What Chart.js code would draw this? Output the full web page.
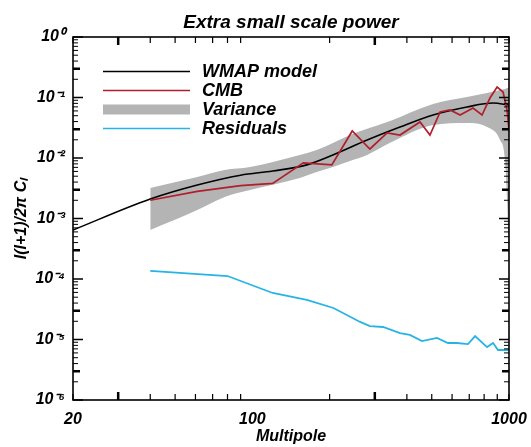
<!DOCTYPE html>
<html>
<head>
<meta charset="utf-8">
<script src="https://cdn.jsdelivr.net/npm/chart.js@4.4.1/dist/chart.umd.min.js"></script>
<style>
  html, body { margin: 0; padding: 0; background: #ffffff; }
  #wrap { width: 531px; height: 447px; }
</style>
</head>
<body>
<div id="wrap"><canvas id="c" width="531" height="447"></canvas></div>
<script>
// ---- data ----
const titleText = 'Extra small scale power';
const xTitle = 'Multipole';
const yTitle = 'l(l+1)/2π Cₗ';

const xTickVals = [20, 100, 1000];
const xTickLabels = ['20', '100', '1000'];
const yTickVals = [1e-6, 1e-5, 1e-4, 1e-3, 1e-2, 1e-1, 1];
const yTickLabels = ['10⁻⁶', '10⁻⁵', '10⁻⁴', '10⁻³', '10⁻²', '10⁻¹', '10⁰'];

const wmapL = [20, 40, 61, 90, 120, 163, 206, 280, 376, 506, 686, 867, 1000];
const wmapV = [6.45e-4, 2.1e-3, 3.58e-3, 5.2e-3, 6.1e-3, 7.7e-3, 1.12e-2, 1.98e-2, 3.25e-2, 5.14e-2, 6.97e-2, 8.1e-2, 7.5e-2];

const cmbL = [40, 61, 90, 120, 158, 204, 245, 287, 335, 376, 450, 492, 539, 589, 645, 724, 785, 843, 899, 948, 983, 1000];
const cmbV = [2.0e-3, 2.8e-3, 3.5e-3, 3.8e-3, 8.3e-3, 7.7e-3, 2.8e-2, 1.41e-2, 2.59e-2, 2.4e-2, 3.94e-2, 2.4e-2, 5.76e-2, 6.22e-2, 5.14e-2, 6.7e-2, 5.14e-2, 9.8e-2, 1.49e-1, 1.23e-1, 6.2e-2, 2.9e-2];

const varL  = [40, 61, 78, 98, 153, 178, 206, 240, 280, 344, 506, 686, 821, 923, 965, 983, 1000];
const varHi = [3.19e-3, 4.85e-3, 6.33e-3, 7.1e-3, 1.12e-2, 1.36e-2, 1.77e-2, 2.4e-2, 3.04e-2, 4.1e-2, 7.8e-2, 1.02e-1, 1.19e-1, 1.33e-1, 1.38e-1, 1.44e-1, 1.44e-1];
const varLo = [6.45e-4, 1.38e-3, 2.27e-3, 2.96e-3, 4.67e-3, 5.87e-3, 7.1e-3, 8.9e-3, 1.12e-2, 1.78e-2, 3.5e-2, 3.8e-2, 3.25e-2, 1.98e-2, 9.3e-3, 2.0e-3, 2.06e-4];

const resL = [40, 80, 120, 163, 207, 263, 287, 323, 376, 411, 458, 524, 578, 627, 692, 738, 821, 867, 906, 1000];
const resV = [1.36e-4, 1.12e-4, 5.87e-5, 4.5e-5, 3.32e-5, 1.95e-5, 1.67e-5, 1.61e-5, 1.28e-5, 1.19e-5, 9.4e-6, 1.06e-5, 8.75e-6, 8.75e-6, 8.4e-6, 1.14e-5, 7.5e-6, 8.75e-6, 6.7e-6, 6.7e-6];

// ---- styles ----
const FAMILY = "'Liberation Sans', Arial, Helvetica, sans-serif";
const RED = '#b01f2c';
const CYAN = '#27b4e4';
const GRAY = '#b4b4b4';
const BLACK = '#000000';

const pts = (xs, ys) => xs.map((x, i) => ({ x: x, y: ys[i] }));

const legendItems = [
  { text: 'WMAP model', color: BLACK, kind: 'line' },
  { text: 'CMB', color: RED, kind: 'line' },
  { text: 'Variance', color: GRAY, kind: 'bar' },
  { text: 'Residuals', color: CYAN, kind: 'line' }
];

const decorPlugin = {
  id: 'decor',
  afterDraw(chart) {
    const ctx = chart.ctx;
    const a = chart.chartArea;
    const xs = chart.scales.x, ys = chart.scales.y;
    ctx.save();
    // title
    ctx.fillStyle = '#000';
    ctx.font = 'italic bold 19px ' + FAMILY;
    ctx.textAlign = 'center';
    ctx.textBaseline = 'alphabetic';
    ctx.fillText(titleText, (a.left + a.right) / 2, 28);

    // inward tick marks
    ctx.strokeStyle = '#000';
    const xt = [];
    for (const d of [10, 100]) for (let m = 2; m <= 9; m++) xt.push(m * d);
    xt.push(1000);
    for (const v of xt) {
      if (v < 20 || v > 1000) continue;
      const px = xs.getPixelForValue(v);
      const thick = (v === 30 || v === 300);
      const len = thick ? 8 : 6;
      ctx.lineWidth = thick ? 2.5 : 1.2;
      ctx.beginPath();
      ctx.moveTo(px, a.bottom); ctx.lineTo(px, a.bottom - len);
      ctx.moveTo(px, a.top); ctx.lineTo(px, a.top + len);
      ctx.stroke();
    }
    for (let e = -6; e <= 0; e++) {
      for (let m = 1; m <= 9; m++) {
        const v = m * Math.pow(10, e);
        if (v > 1.0001) continue;
        const py = ys.getPixelForValue(v);
        let len = 5, lw = 1;
        if (m === 1) { len = 10; lw = 1.3; }
        else if (m === 3) { len = 7; lw = 2.5; }
        ctx.lineWidth = lw;
        ctx.beginPath();
        ctx.moveTo(a.left, py); ctx.lineTo(a.left + len, py);
        ctx.moveTo(a.right, py); ctx.lineTo(a.right - len, py);
        ctx.stroke();
      }
    }
    // frame
    ctx.lineWidth = 1.6;
    ctx.strokeRect(a.left, a.top, a.right - a.left, a.bottom - a.top);

    // legend
    const x0 = a.left + 30, x1 = a.left + 117, tx = a.left + 129;
    ctx.font = 'italic bold 18px ' + FAMILY;
    ctx.textAlign = 'left';
    ctx.textBaseline = 'alphabetic';
    legendItems.forEach((it, i) => {
      const y = a.top + 34.5 + i * 19;
      if (it.kind === 'bar') {
        ctx.fillStyle = it.color;
        ctx.fillRect(x0, y - 5, x1 - x0, 10);
      } else {
        ctx.strokeStyle = it.color;
        ctx.lineWidth = 1.6;
        ctx.beginPath(); ctx.moveTo(x0, y); ctx.lineTo(x1, y); ctx.stroke();
      }
      ctx.fillStyle = '#000';
      ctx.fillText(it.text, tx, y + 5);
    });
    ctx.restore();
  }
};

const tickFont = { family: FAMILY, size: 16, style: 'italic', weight: 'bold' };

new Chart(document.getElementById('c'), {
  type: 'line',
  data: {
    datasets: [
      { label: 'CMB', data: pts(cmbL, cmbV), borderColor: RED, borderWidth: 1.7, pointRadius: 0, fill: false, tension: 0 },
      { label: 'WMAP model', data: pts(wmapL, wmapV), borderColor: BLACK, borderWidth: 1.6, pointRadius: 0, fill: false, cubicInterpolationMode: 'monotone' },
      { label: 'Residuals', data: pts(resL, resV), borderColor: CYAN, borderWidth: 1.8, pointRadius: 0, fill: false, tension: 0 },
      { label: 'Variance', data: pts(varL, varHi), borderColor: GRAY, borderWidth: 0, pointRadius: 0, backgroundColor: GRAY, fill: '+1', cubicInterpolationMode: 'monotone' },
      { label: 'Variance (lower)', data: pts(varL, varLo), borderColor: GRAY, borderWidth: 0, pointRadius: 0, fill: false, cubicInterpolationMode: 'monotone' }
    ]
  },
  options: {
    responsive: false,
    devicePixelRatio: 1,
    animation: false,
    layout: { padding: { top: 37, right: 22, left: 0, bottom: 0 } },
    plugins: {
      legend: { display: false },
      tooltip: { enabled: false },
      title: { display: false }
    },
    scales: {
      x: {
        type: 'logarithmic', position: 'bottom', min: 20, max: 1000,
        grid: { display: false, drawTicks: false },
        border: { display: false },
        afterBuildTicks: (s) => { s.ticks = xTickVals.map(v => ({ value: v })); },
        afterFit: (s) => { s.height = 47; s.paddingLeft = 0; s.paddingRight = 0; },
        ticks: {
          autoSkip: false, maxRotation: 0, padding: 10, color: '#000', font: tickFont,
          callback: (v) => { const i = xTickVals.indexOf(v); return i >= 0 ? xTickLabels[i] : ''; }
        },
        title: { display: true, text: xTitle, color: '#000', font: { family: FAMILY, size: 16, style: 'italic', weight: 'bold' }, padding: { top: 0, bottom: 0.5 } }
      },
      y: {
        type: 'logarithmic', position: 'left', min: 1e-6, max: 1,
        grid: { display: false, drawTicks: false },
        border: { display: false },
        afterBuildTicks: (s) => { s.ticks = yTickVals.map(v => ({ value: v })); },
        afterFit: (s) => { s.width = 73; s.paddingTop = 0; s.paddingBottom = 0; },
        ticks: {
          autoSkip: false, padding: 8, color: '#000', font: tickFont,
          callback: (v) => { const i = yTickVals.findIndex(t => Math.abs(Math.log10(t) - Math.log10(v)) < 1e-6); return i >= 0 ? yTickLabels[i] : ''; }
        },
        title: { display: true, text: yTitle, color: '#000', font: { family: FAMILY, size: 16, style: 'italic', weight: 'bold' }, padding: { top: 12, bottom: 0 } }
      }
    }
  },
  plugins: [decorPlugin]
});
</script>
</body>
</html>
